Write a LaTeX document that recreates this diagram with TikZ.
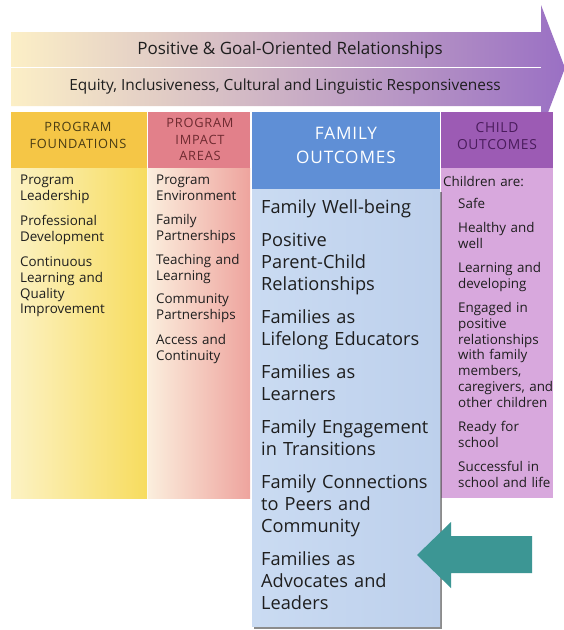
\documentclass[tikz,border=0pt]{standalone}
\usepackage{fontspec}
\setmainfont{Open Sans}
\usetikzlibrary{shadows}
\definecolor{pfhc}{HTML}{F5C646}
\definecolor{pfbl}{HTML}{FCF2C4}
\definecolor{pfbr}{HTML}{F7DC5E}
\definecolor{pihc}{HTML}{E2808A}
\definecolor{pibl}{HTML}{FBEEDD}
\definecolor{pibr}{HTML}{EEA49E}
\definecolor{fohc}{HTML}{5F8FD6}
\definecolor{fobl}{HTML}{CADBF2}
\definecolor{fobr}{HTML}{BDD0EC}
\definecolor{cohc}{HTML}{9C5BB4}
\definecolor{cob}{HTML}{D8A8DD}
\definecolor{arl}{HTML}{FCEFC6}
\definecolor{arm}{HTML}{F2E0EA}
\definecolor{arr}{HTML}{9A70C4}
\definecolor{teal}{HTML}{3C9694}
\definecolor{txt}{HTML}{1E1E1E}
\definecolor{pft}{HTML}{4A3D14}
\definecolor{pit}{HTML}{6E2A30}
\definecolor{cot}{HTML}{4A1C5C}
\tikzset{
  box/.style={inner sep=0pt, outer sep=0pt, anchor=north west},
  smallitem/.style={inner sep=0pt, anchor=base west, align=left, text=txt,
    font=\fontsize{13.4}{15.8}\selectfont, text width=100pt},
  bigitem/.style={inner sep=0pt, anchor=base west, align=left, text=txt,
    font=\fontsize{18.2}{22}\selectfont, text width=180pt},
  headtxt/.style={inner sep=0pt, align=center,
    font=\fontsize{12.8}{16.5}\selectfont\addfontfeatures{LetterSpace=6}},
}
\begin{document}
\begin{tikzpicture}[x=1pt,y=-1pt]
\useasboundingbox (0,0) rectangle (564,630);
\fill[white] (0,0) rectangle (564,630);
% big arrow
\shade[left color=arl, middle color=arm, right color=arr]
  (11,32) -- (541,32) -- (541,5) -- (565,68) -- (541,131) -- (541,106) -- (11,106) -- cycle;
\draw[white, line width=1.6pt] (11,67.5) -- (541,67.5);
\node[inner sep=0pt, text=txt, font=\fontsize{17}{20}\selectfont] (rel) at (290,50) {Positive \& Goal-Oriented Relationships};
\node[inner sep=0pt, text=txt, font=\fontsize{15.4}{18}\selectfont] (eq) at (285,86) {Equity, Inclusiveness, Cultural and Linguistic Responsiveness};
% program foundations
\node[box, fill=pfhc, minimum width=136pt, minimum height=56pt] (pfh) at (11,112) {};
\node[box, left color=pfbl, right color=pfbr, minimum width=136pt, minimum height=330pt] (pfb) at (11,168) {};
\node[headtxt, text=pft] (pfht) at (78,135.5) {PROGRAM\\FOUNDATIONS};
% program impact areas
\node[box, fill=pihc, minimum width=102pt, minimum height=56pt] (pih) at (148,112) {};
\node[box, left color=pibl, right color=pibr, minimum width=102pt, minimum height=330pt] (pib) at (148,168) {};
\node[headtxt, text=pit] (piht) at (200,139.5) {PROGRAM\\IMPACT\\AREAS};
% child outcomes
\node[box, fill=cohc, minimum width=112pt, minimum height=56pt] (coh) at (441,112) {};
\node[box, fill=cob, minimum width=112pt, minimum height=330pt] (cob) at (441,168) {};
\node[headtxt, text=cot, font=\fontsize{13.8}{16.5}\selectfont\addfontfeatures{LetterSpace=5}] (coht) at (497,136) {CHILD\\OUTCOMES};
% family outcomes
\node[box, left color=fobl, right color=fobr, minimum width=188pt, minimum height=437pt,
  drop shadow={shadow xshift=1.5pt, shadow yshift=-2.5pt, fill=black!75, opacity=0.6}] (fob) at (252,189) {};
\node[box, fill=fohc, minimum width=188pt, minimum height=77pt] (foh) at (252,112) {};
\node[inner sep=0pt, align=center, text=white, font=\fontsize{17.2}{24}\selectfont\addfontfeatures{LetterSpace=5}] (foht) at (346,145) {FAMILY\\OUTCOMES};
% items
\node[smallitem] (pf1) at (20,184.5) {Program\\Leadership};
\node[smallitem] (pf2) at (20,225.5) {Professional\\Development};
\node[smallitem] (pf3) at (20,266.5) {Continuous\\Learning and\\Quality\\Improvement};
\node[smallitem] (pi1) at (156,184.5) {Program\\Environment};
\node[smallitem] (pi2) at (156,224.5) {Family\\Partnerships};
\node[smallitem] (pi3) at (156,264.5) {Teaching and\\Learning};
\node[smallitem] (pi4) at (156,303.5) {Community\\Partnerships};
\node[smallitem] (pi5) at (156,344.5) {Access and\\Continuity};
\node[bigitem] (fo1) at (261,213) {Family Well-being};
\node[bigitem] (fo2) at (261,246) {Positive\\Parent-Child\\Relationships};
\node[bigitem] (fo3) at (261,323) {Families as\\Lifelong Educators};
\node[bigitem] (fo4) at (261,378) {Families as\\Learners};
\node[bigitem] (fo5) at (261,433) {Family Engagement\\in Transitions};
\node[bigitem] (fo6) at (261,488) {Family Connections\\to Peers and\\Community};
\node[bigitem] (fo7) at (261,565) {Families as\\Advocates and\\Leaders};
\node[smallitem] (co0) at (443,186.5) {Children are:};
\node[smallitem] (co1) at (458,208.5) {Safe};
\node[smallitem] (co2) at (458,232.5) {Healthy and\\well};
\node[smallitem] (co3) at (458,272.5) {Learning and\\developing};
\node[smallitem] (co4) at (458,312.5) {Engaged in\\positive\\relationships\\with family\\members,\\caregivers, and\\other children};
\node[smallitem] (co5) at (458,431.5) {Ready for\\school};
\node[smallitem] (co6) at (458,471.5) {Successful in\\school and life};
% teal arrow
\fill[teal] (417,555) -- (451,522) -- (451,536) -- (532,536) -- (532,573) -- (451,573) -- (451,588) -- cycle;
\end{tikzpicture}
\end{document}
